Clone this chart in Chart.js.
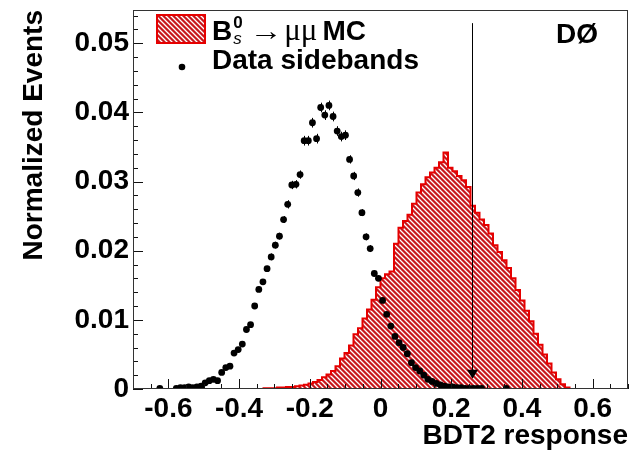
<!DOCTYPE html>
<html>
<head>
<meta charset="utf-8">
<script src="https://cdn.jsdelivr.net/npm/chart.js@4.4.0/dist/chart.umd.min.js"></script>
<style>
  html, body { margin: 0; padding: 0; background: #fff; }
</style>
</head>
<body>
<canvas id="bdtCanvas" width="633" height="451"></canvas>
<script>
// axis ranges and labels
const xRange = [-0.7, 0.7];
const xTickValues = [-0.6, -0.4, -0.2, 0, 0.2, 0.4, 0.6];
const xTickLabels = ["-0.6", "-0.4", "-0.2", "0", "0.2", "0.4", "0.6"];
const yMax = 0.0548;
const yTickValues = [0, 0.01, 0.02, 0.03, 0.04, 0.05];
const yTickLabels = ["0", "0.01", "0.02", "0.03", "0.04", "0.05"];

// Bs -> mumu MC, 110 bins over xRange; bins before mcFirstBin are empty
const mcBinCount = 110;
const mcFirstBin = 29;
const mcValues = [
  0, 0.0001, 0.0001, 0.0001, 0.0002, 0.0002, 0.0003, 0.0003, 0.0004, 0.0005,
  0.0006, 0.0008, 0.0010, 0.0013, 0.0017, 0.0021, 0.0026, 0.0033, 0.0044, 0.0052,
  0.0063, 0.0079, 0.0088, 0.0102, 0.0115, 0.0129, 0.0147, 0.0160, 0.0166, 0.0170,
  0.0210, 0.0233, 0.0243, 0.0252, 0.0268, 0.0284, 0.0296, 0.0306, 0.0313, 0.0320,
  0.0328, 0.0342, 0.0320, 0.0315, 0.0308, 0.0302, 0.0292, 0.0265, 0.0255, 0.0245,
  0.0237, 0.0225, 0.0208, 0.0198, 0.0186, 0.0175, 0.0160, 0.0143, 0.0128, 0.0113,
  0.0098, 0.0080, 0.0064, 0.0050, 0.0037, 0.0024, 0.0014, 0.0007, 0.0002, 0
];

// data sidebands, 120 bins over xRange (only filled bins listed)
const dataBinCount = 120;
const dataBins = [
  6, 10, 11, 12, 13, 14, 15, 16, 17, 18, 19, 20, 21, 22, 23, 24, 25, 26, 27, 28, 29, 30,
  31, 32, 33, 34, 35, 36, 37, 38, 39, 40, 41, 42, 43, 44, 45, 46, 47, 48, 49, 50,
  51, 52, 53, 54, 55, 56, 57, 58, 59, 60, 61, 62, 63, 64, 65, 66, 67, 68, 69, 70,
  71, 72, 73, 74, 75, 76, 77, 78, 79, 80, 81, 82, 83, 84, 90
];
const dataValues = [
  0.0001, 0.0001, 0.0002, 0.0002, 0.0003, 0.0002, 0.0003, 0.0004, 0.0009, 0.0012, 0.0014,
  0.0012, 0.0024, 0.0031, 0.0033, 0.0052, 0.0057, 0.0065, 0.0086, 0.0093, 0.0120, 0.0144,
  0.0155, 0.0174, 0.0191, 0.0208, 0.0221, 0.0245, 0.0267, 0.0295, 0.0296, 0.0310,
  0.0359, 0.0359, 0.0385, 0.0362, 0.0407, 0.0396, 0.0410, 0.0394, 0.0373, 0.0365,
  0.0367, 0.0332, 0.0308, 0.0284, 0.0255, 0.0220, 0.0203, 0.0167, 0.0160, 0.0128,
  0.0108, 0.0091, 0.0076, 0.0067, 0.0060, 0.0051, 0.0038, 0.0031, 0.0026, 0.0020,
  0.0014, 0.0011, 0.0008, 0.0006, 0.0004, 0.0003, 0.0003, 0.0002, 0.0002, 0.0001,
  0.0001, 0.0001, 0.0001, 0.0001, 0.0001
];
const dataErrors = [
  0.0001, 0.0001, 0.0001, 0.0001, 0.0001, 0.0001, 0.0001, 0.0001, 0.0001, 0.0001, 0.0001,
  0.0001, 0.0002, 0.0002, 0.0002, 0.0002, 0.0003, 0.0003, 0.0003, 0.0003, 0.0004, 0.0004,
  0.0004, 0.0004, 0.0005, 0.0005, 0.0005, 0.0005, 0.0006, 0.0006, 0.0006, 0.0006,
  0.0007, 0.0007, 0.0007, 0.0007, 0.0007, 0.0007, 0.0007, 0.0007, 0.0007, 0.0007,
  0.0007, 0.0006, 0.0006, 0.0006, 0.0005, 0.0005, 0.0005, 0.0004, 0.0004, 0.0004,
  0.0003, 0.0003, 0.0003, 0.0003, 0.0003, 0.0002, 0.0002, 0.0002, 0.0002, 0.0002,
  0.0001, 0.0001, 0.0001, 0.0001, 0.0001, 0.0001, 0.0001, 0.0001, 0.0001, 0.0001,
  0.0001, 0.0001, 0.0001, 0.0001, 0.0001
];

// BDT2 cut and its arrow
const cutValue = 0.26;
const cutTop = 0.0529;
const cutBottom = 0.0015;

const boldFont = "'Liberation Sans', Arial, Helvetica, sans-serif";
const symbolFont = "'Liberation Serif', 'Times New Roman', serif";
const mcRed = "rgb(230, 0, 0)";

function hatchPattern() {
  const c = document.createElement("canvas");
  c.width = 5; c.height = 5;
  const g = c.getContext("2d");
  g.fillStyle = "#c8161c";
  g.fillRect(0, 0, 5, 5);
  g.strokeStyle = "#ffffff";
  g.lineWidth = 1.3;
  g.beginPath();
  g.moveTo(-1, -1); g.lineTo(6, 6);
  g.moveTo(-1, 4); g.lineTo(1, 6);
  g.moveTo(4, -1); g.lineTo(6, 1);
  g.stroke();
  return g.createPattern(c, "repeat");
}
const hatch = hatchPattern();

// step histogram points (left bin edges) for the MC
const mcBinWidth = (xRange[1] - xRange[0]) / mcBinCount;
const mcPoints = [];
for (let i = 0; i < mcBinCount; i++) {
  const j = i - mcFirstBin;
  const v = (j >= 0 && j < mcValues.length) ? mcValues[j] : 0;
  mcPoints.push({ x: xRange[0] + i * mcBinWidth, y: v });
}
mcPoints.push({ x: xRange[1], y: 0 });

// sideband points at bin centres
const dataBinWidth = (xRange[1] - xRange[0]) / dataBinCount;
const dataPoints = dataBins.map((k, i) => ({
  x: xRange[0] + (k + 0.5) * dataBinWidth,
  y: dataValues[i],
  err: dataErrors[i]
}));

const rootDecorations = {
  id: "rootDecorations",
  afterDatasetDraw(chart, args) {
    if (args.index !== 0) return;
    // error bars go under the markers
    const { ctx, scales: { x, y } } = chart;
    ctx.save();
    ctx.strokeStyle = "#000";
    ctx.lineWidth = 1;
    dataPoints.forEach(p => {
      const px = Math.round(x.getPixelForValue(p.x)) + 0.5;
      ctx.beginPath();
      ctx.moveTo(px, y.getPixelForValue(p.y + p.err));
      ctx.lineTo(px, y.getPixelForValue(Math.max(0, p.y - p.err)));
      ctx.stroke();
    });
    ctx.restore();
  },
  afterDraw(chart) {
    const { ctx, chartArea: a, scales: { x, y } } = chart;
    ctx.save();

    // inward ticks
    ctx.strokeStyle = "#111";
    ctx.lineWidth = 1;
    ctx.beginPath();
    for (let i = 0; i <= 28; i++) {
      const v = xRange[0] + i * 0.05;
      const major = Math.abs(Math.round(v / 0.2) * 0.2 - v) < 1e-6;
      const px = Math.round(x.getPixelForValue(v)) + 0.5;
      ctx.moveTo(px, a.bottom);
      ctx.lineTo(px, a.bottom - (major ? 10 : 5));
    }
    for (let i = 0; i * 0.002 <= yMax; i++) {
      const py = Math.round(y.getPixelForValue(i * 0.002)) + 0.5;
      ctx.moveTo(a.left, py);
      ctx.lineTo(a.left + (i % 5 === 0 ? 10 : 5), py);
    }
    ctx.stroke();

    // frame
    ctx.strokeStyle = "#333";
    ctx.strokeRect(a.left + 0.5, a.top + 0.5, a.right - a.left - 1, a.bottom - a.top - 1);

    // cut line with arrow
    const cx = Math.round(x.getPixelForValue(cutValue)) + 0.5;
    const tipY = y.getPixelForValue(cutBottom);
    ctx.strokeStyle = "#000";
    ctx.beginPath();
    ctx.moveTo(cx, y.getPixelForValue(cutTop));
    ctx.lineTo(cx, tipY - 8);
    ctx.stroke();
    ctx.fillStyle = "#000";
    ctx.beginPath();
    ctx.moveTo(cx - 5.5, tipY - 9);
    ctx.lineTo(cx + 5.5, tipY - 9);
    ctx.lineTo(cx, tipY);
    ctx.closePath();
    ctx.fill();

    // legend
    const lx = a.left + 24, ly = a.top + 5;
    ctx.fillStyle = hatch;
    ctx.fillRect(lx, ly, 48, 28);
    ctx.strokeStyle = mcRed;
    ctx.lineWidth = 2;
    ctx.strokeRect(lx, ly, 48, 28);

    ctx.fillStyle = "#000";
    ctx.textBaseline = "alphabetic";
    ctx.textAlign = "left";
    let tx = a.left + 79;
    const base1 = a.top + 30;
    ctx.font = "bold 28px " + boldFont;
    ctx.fillText("B", tx, base1);
    tx += ctx.measureText("B").width;
    ctx.font = "bold 17px " + boldFont;
    ctx.fillText("0", tx + 1, base1 - 12);
    ctx.font = "italic 17px " + boldFont;
    ctx.fillText("s", tx + 1, base1 + 4);
    tx += 17;
    // wide thin arrow
    ctx.font = "27px " + symbolFont;
    const arrowW = ctx.measureText("\u2192").width;
    ctx.save();
    ctx.translate(tx, base1);
    ctx.scale(33 / arrowW, 1);
    ctx.fillText("\u2192", 0, 0);
    ctx.restore();
    tx += 35;
    ctx.font = "31px " + symbolFont;
    ctx.fillText("\u03bc\u03bc", tx, base1);
    tx += ctx.measureText("\u03bc\u03bc").width + 5;
    ctx.font = "bold 28px " + boldFont;
    ctx.fillText("MC", tx, base1);

    ctx.beginPath();
    ctx.arc(a.left + 49, a.top + 57, 3.3, 0, Math.PI * 2);
    ctx.fill();
    ctx.fillText("Data sidebands", a.left + 79, a.top + 59);

    // experiment label
    ctx.fillText("D\u00d8", a.left + 423, a.top + 33);

    ctx.restore();
  }
};

const bdtChart = new Chart(document.getElementById("bdtCanvas"), {
  type: "line",
  data: {
    datasets: [
      {
        label: "Bs -> mumu MC",
        data: mcPoints,
        stepped: "after",
        borderColor: mcRed,
        borderWidth: 2,
        backgroundColor: hatch,
        fill: "origin",
        pointRadius: 0,
        order: 2
      },
      {
        label: "Data sidebands",
        data: dataPoints,
        showLine: false,
        pointRadius: 3.4,
        pointBackgroundColor: "#000",
        pointBorderWidth: 0,
        order: 1
      }
    ]
  },
  options: {
    responsive: false,
    devicePixelRatio: 1,
    animation: false,
    layout: { padding: { top: 10, right: 5, left: 0, bottom: 0 } },
    plugins: { legend: { display: false }, tooltip: { enabled: false } },
    scales: {
      x: {
        type: "linear",
        min: xRange[0],
        max: xRange[1],
        afterBuildTicks: s => { s.ticks = xTickValues.map(v => ({ value: v })); },
        afterFit: s => {
          s.height = 62;
          s.paddingLeft = 0; s.paddingRight = 0;
        },
        grid: { display: false, drawTicks: false },
        border: { display: false },
        ticks: {
          padding: 3,
          color: "#000",
          maxRotation: 0,
          autoSkip: false,
          font: { family: boldFont, size: 28, weight: "bold" },
          callback: (v, i) => xTickLabels[i]
        },
        title: {
          display: true,
          text: "BDT2 response",
          align: "end",
          color: "#000",
          padding: { top: 0, bottom: -2 },
          font: { family: boldFont, size: 28, weight: "bold" }
        }
      },
      y: {
        type: "linear",
        min: 0,
        max: yMax,
        afterBuildTicks: s => { s.ticks = yTickValues.map(v => ({ value: v })); },
        afterFit: s => {
          s.width = 133;
          s.paddingTop = 0; s.paddingBottom = 0;
        },
        grid: { display: false, drawTicks: false },
        border: { display: false },
        ticks: {
          padding: 4,
          color: "#000",
          autoSkip: false,
          font: { family: boldFont, size: 28, weight: "bold" },
          callback: (v, i) => yTickLabels[i]
        },
        title: {
          display: true,
          text: "Normalized Events",
          align: "end",
          color: "#000",
          padding: { top: 17, bottom: 0 },
          font: { family: boldFont, size: 28, weight: "bold" }
        }
      }
    }
  },
  plugins: [rootDecorations]
});
</script>
</body>
</html>
